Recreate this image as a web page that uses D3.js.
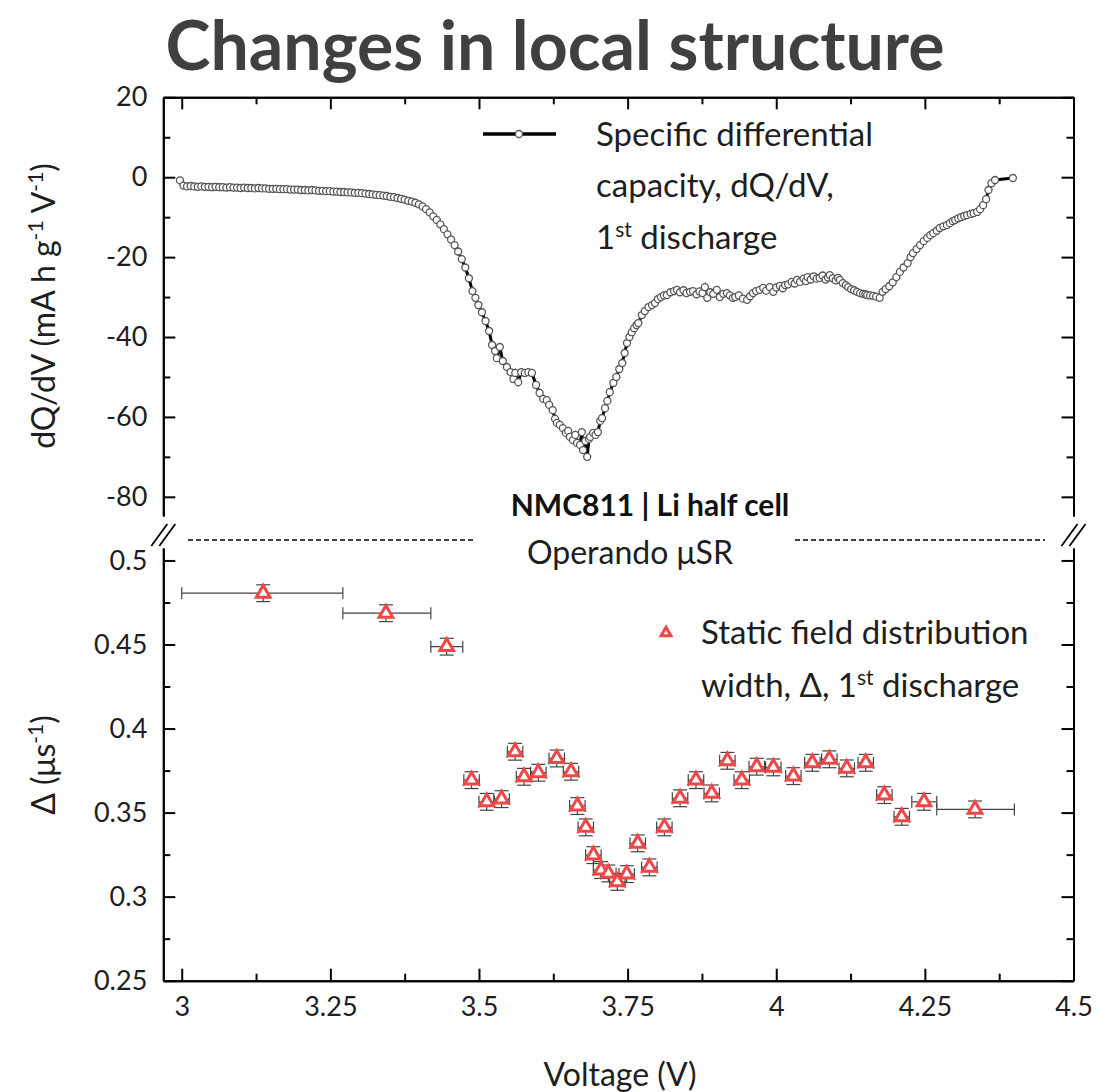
<!DOCTYPE html>
<html><head><meta charset="utf-8">
<script src="https://cdn.jsdelivr.net/npm/d3@7"></script>
<style>
body{margin:0;background:#fff;}
svg{display:block;font-family:Lato,"Open Sans",sans-serif;}
</style></head>
<body>
<svg id="c" width="1099" height="1092"></svg>
<script>
// ---------- data ----------
const voltage = [
2.997,3.003,3.009,3.015,3.021,3.027,3.033,3.039,3.045,3.051,
3.057,3.063,3.069,3.075,3.081,3.087,3.093,3.099,3.105,3.111,
3.117,3.123,3.129,3.135,3.141,3.147,3.153,3.159,3.165,3.171,
3.177,3.183,3.189,3.195,3.201,3.207,3.213,3.219,3.225,3.231,
3.237,3.243,3.249,3.255,3.261,3.267,3.273,3.279,3.285,3.291,
3.297,3.303,3.309,3.315,3.321,3.327,3.333,3.339,3.345,3.351,
3.357,3.363,3.369,3.375,3.381,3.387,3.393,3.399,3.405,3.411,
3.417,3.423,3.429,3.435,3.441,3.447,3.453,3.459,3.465,3.471,
3.477,3.483,3.489,3.494,3.499,3.505,3.511,3.517,3.522,3.527,
3.530,3.535,3.540,3.547,3.553,3.558,3.561,3.566,3.571,3.577,
3.583,3.589,3.596,3.602,3.608,3.614,3.618,3.624,3.628,3.631,
3.636,3.641,3.646,3.650,3.653,3.658,3.662,3.665,3.670,3.673,
3.675,3.679,3.682,3.685,3.687,3.692,3.696,3.700,3.704,3.707,
3.712,3.716,3.720,3.726,3.731,3.736,3.741,3.745,3.749,3.753,
3.757,3.761,3.765,3.768,3.774,3.779,3.785,3.791,3.796,3.801,
3.806,3.811,3.816,3.822,3.828,3.833,3.838,3.844,3.849,3.855,
3.860,3.866,3.871,3.876,3.880,3.884,3.889,3.894,3.900,3.905,
3.911,3.917,3.922,3.927,3.931,3.937,3.944,3.951,3.956,3.961,
3.966,3.972,3.978,3.983,3.989,3.995,4.000,4.006,4.011,4.015,
4.020,4.026,4.031,4.035,4.040,4.046,4.050,4.053,4.058,4.063,
4.068,4.073,4.078,4.083,4.087,4.090,4.095,4.100,4.104,4.107,
4.112,4.117,4.121,4.126,4.131,4.136,4.141,4.146,4.150,4.153,
4.158,4.163,4.168,4.174,4.179,4.184,4.190,4.196,4.202,4.208,
4.214,4.221,4.226,4.230,4.236,4.242,4.248,4.254,4.259,4.264,
4.270,4.275,4.281,4.287,4.292,4.297,4.301,4.306,4.311,4.316,
4.321,4.327,4.332,4.338,4.343,4.348,4.353,4.357,4.362,4.368,
4.398];
const dQdV = [
-0.8,-2.1,-2.3,-2.2,-2.3,-2.4,-2.3,-2.4,-2.4,-2.5,
-2.4,-2.5,-2.5,-2.6,-2.5,-2.6,-2.6,-2.7,-2.6,-2.7,
-2.7,-2.8,-2.7,-2.8,-2.8,-2.9,-2.9,-2.9,-3.0,-3.0,
-3.0,-3.1,-3.1,-3.1,-3.2,-3.2,-3.3,-3.2,-3.3,-3.4,
-3.4,-3.5,-3.5,-3.6,-3.6,-3.7,-3.7,-3.8,-3.8,-3.9,
-3.9,-4.0,-4.1,-4.2,-4.3,-4.4,-4.5,-4.6,-4.7,-4.9,
-5.0,-5.2,-5.4,-5.6,-5.9,-6.1,-6.4,-6.8,-7.3,-8.0,
-8.8,-9.8,-10.7,-11.8,-13.0,-14.3,-15.6,-17.0,-18.6,-20.5,
-22.6,-25.3,-28.5,-30.2,-32.0,-33.8,-36.0,-38.5,-42.0,-43.5,
-45.3,-42.5,-46.0,-47.5,-48.8,-50.5,-49.0,-51.3,-48.8,-49.0,
-48.8,-49.0,-52.0,-54.0,-55.5,-55.8,-57.0,-58.3,-60.5,-61.5,
-62.0,-62.8,-64.0,-63.5,-65.0,-65.8,-64.5,-66.5,-67.0,-63.8,
-68.3,-66.0,-70.0,-65.5,-65.0,-64.0,-64.5,-63.8,-61.0,-60.3,
-57.8,-56.0,-53.8,-51.5,-50.0,-48.0,-46.5,-44.0,-41.5,-40.0,
-38.8,-37.8,-37.0,-36.5,-34.5,-33.5,-32.5,-32.0,-31.5,-30.5,
-30.0,-29.6,-29.5,-28.8,-28.5,-28.2,-28.8,-28.3,-29.0,-28.7,
-28.5,-29.3,-28.6,-29.0,-27.5,-30.2,-28.8,-29.2,-28.2,-30.0,
-29.2,-29.0,-29.6,-30.2,-30.0,-29.6,-30.4,-30.7,-29.8,-29.0,
-28.5,-28.2,-27.7,-28.4,-27.5,-28.7,-27.6,-27.2,-27.8,-27.0,
-26.8,-26.2,-26.6,-25.7,-26.2,-25.4,-26.0,-25.0,-25.6,-24.8,
-25.4,-25.2,-24.6,-25.6,-25.1,-24.5,-25.3,-25.8,-25.2,-25.7,
-26.5,-27.0,-27.5,-28.0,-28.3,-28.7,-29.0,-29.2,-29.3,-29.5,
-29.6,-29.7,-29.9,-30.2,-28.7,-28.0,-27.3,-26.3,-25.0,-23.7,
-22.6,-21.5,-20.0,-19.0,-18.0,-17.0,-16.0,-15.2,-14.5,-14.0,
-13.4,-12.7,-12.3,-12.0,-11.5,-11.0,-10.7,-10.3,-10.0,-9.7,
-9.5,-9.2,-9.0,-8.7,-8.0,-7.0,-5.5,-3.2,-1.5,-0.7,
-0.2];

const muV = [3.137,3.3435,3.4457,3.4875,3.513,3.538,3.5607,3.5758,3.5998,3.6308,
3.6548,3.6655,3.6796,3.6924,3.7053,3.7176,3.7327,3.7485,3.767,3.7866,
3.8118,3.8382,3.865,3.8915,3.9178,3.942,3.9672,3.9951,4.0288,4.0607,
4.0893,4.1186,4.1505,4.1818,4.2111,4.2486,4.3344];
const delta = [0.4805,0.4686,0.4487,0.3693,0.3564,0.3580,0.3862,0.3713,0.3737,0.3822,
0.3743,0.3539,0.3412,0.3247,0.3158,0.3138,0.3088,0.3134,0.3317,0.3174,
0.3412,0.3585,0.3693,0.3614,0.3808,0.3693,0.3773,0.3769,0.3717,0.3796,
0.3817,0.3763,0.3796,0.3604,0.3475,0.3564,0.3519];
const vErrMinus = [0.137,0.0725,0.0267,0.013,0.013,0.013,0.013,0.013,0.013,0.013,
0.013,0.013,0.013,0.013,0.013,0.013,0.013,0.013,0.013,0.013,
0.013,0.013,0.013,0.013,0.013,0.013,0.013,0.013,0.013,0.013,
0.013,0.013,0.013,0.013,0.013,0.0206,0.0644];
const vErrPlus = [0.134,0.0755,0.027,0.013,0.013,0.013,0.013,0.013,0.013,0.013,
0.013,0.013,0.013,0.013,0.013,0.013,0.013,0.013,0.013,0.013,
0.013,0.013,0.013,0.013,0.013,0.013,0.013,0.013,0.013,0.013,
0.013,0.013,0.013,0.013,0.013,0.0214,0.0661];
const deltaErr = [0.005,0.005,0.005,0.005,0.005,0.005,0.005,0.005,0.005,0.005,
0.005,0.005,0.005,0.005,0.005,0.005,0.005,0.005,0.005,0.005,
0.005,0.005,0.005,0.005,0.005,0.005,0.005,0.005,0.005,0.005,
0.005,0.005,0.005,0.005,0.005,0.005,0.005];

const xMajor = [3,3.25,3.5,3.75,4,4.25,4.5];
const xMinor = [3.125,3.375,3.625,3.875,4.125,4.375];
const yTopMajor = [20,0,-20,-40,-60,-80];
const yTopMinor = [10,-10,-30,-50,-70];
const yBotMajor = [0.5,0.45,0.4,0.35,0.3,0.25];
const yBotMinor = [0.475,0.425,0.375,0.325,0.275];

// ---------- layout ----------
const svg = d3.select("#c");
const X0 = 163.3, X1 = 1073.5;
const x = d3.scaleLinear().domain([2.969, 4.5]).range([X0, X1]);
const yT = d3.scaleLinear().domain([-84.8, 20]).range([516, 97.3]);
const yB = d3.scaleLinear().domain([0.25, 0.5074]).range([980.7, 548]);
const FONT = 27;      // tick labels
const LFONT = 32;     // axis labels
const GFONT = 33;     // legends
const SUP = 21;
const red = "#ef4747";
const ink = "#1e1e1e";

function styleAxis(g){
  g.selectAll(".domain").attr("stroke","#000").attr("stroke-width",2);
  g.selectAll(".tick line").attr("stroke","#000").attr("stroke-width",2);
  g.selectAll(".tick text").attr("fill",ink).style("font-size",FONT+"px").style("font-family","Lato");
}
function addAxis(make, tx, ty, major, minor, labels){
  const fmt = labels ? (d=>String(d)) : (()=> "");
  const g = svg.append("g").attr("transform",`translate(${tx},${ty})`)
    .call(make().tickValues(major).tickSize(-12).tickSizeOuter(0).tickPadding(16).tickFormat(fmt));
  styleAxis(g);
  const gm = svg.append("g").attr("transform",`translate(${tx},${ty})`)
    .call(make().tickValues(minor).tickSize(-7).tickSizeOuter(0).tickFormat(()=> ""));
  styleAxis(gm);
  return g;
}
// top panel
addAxis(()=>d3.axisLeft(yT), X0, 0, yTopMajor, yTopMinor, true);
addAxis(()=>d3.axisRight(yT), X1, 0, yTopMajor, yTopMinor, false);
addAxis(()=>d3.axisTop(x), 0, yT(20), xMajor, xMinor, false);
// bottom panel
addAxis(()=>d3.axisLeft(yB), X0, 0, yBotMajor, yBotMinor, true);
addAxis(()=>d3.axisRight(yB), X1, 0, yBotMajor, yBotMinor, false);
addAxis(()=>d3.axisBottom(x), 0, yB(0.25), xMajor, xMinor, true);

// break marks
[X0, X1].forEach(cx=>{
  [-4, 4].forEach(o=>{
    svg.append("line").attr("x1",cx+o-8).attr("y1",546).attr("x2",cx+o+8).attr("y2",524)
      .attr("stroke","#000").attr("stroke-width",1.8);
  });
});
// dashed separators
[[188,475],[795,1045]].forEach(s=>{
  svg.append("line").attr("x1",s[0]).attr("x2",s[1]).attr("y1",540).attr("y2",540)
    .attr("stroke","#000").attr("stroke-width",1.5).attr("stroke-dasharray","5,3");
});

// ---------- top curve ----------
const pts = voltage.map((v,i)=>[v,dQdV[i]]);
svg.append("path").datum(pts)
  .attr("d", d3.line().x(d=>x(d[0])).y(d=>yT(d[1])))
  .attr("fill","none").attr("stroke","#000").attr("stroke-width",3);
svg.append("g").selectAll("circle").data(pts).join("circle")
  .attr("cx",d=>x(d[0])).attr("cy",d=>yT(d[1])).attr("r",3.5)
  .attr("fill","#fff").attr("stroke","#555").attr("stroke-width",1.3);

// ---------- bottom points ----------
const mu = muV.map((v,i)=>({v, d:delta[i], lo:v-vErrMinus[i], hi:v+vErrPlus[i], e:deltaErr[i]}));
const eb = svg.append("g").attr("stroke","#444").attr("stroke-width",1.2);
mu.forEach(p=>{
  eb.append("line").attr("x1",x(p.lo)).attr("x2",x(p.hi)).attr("y1",yB(p.d)).attr("y2",yB(p.d));
  eb.append("line").attr("x1",x(p.lo)).attr("x2",x(p.lo)).attr("y1",yB(p.d)-6).attr("y2",yB(p.d)+6);
  eb.append("line").attr("x1",x(p.hi)).attr("x2",x(p.hi)).attr("y1",yB(p.d)-6).attr("y2",yB(p.d)+6);
  eb.append("line").attr("x1",x(p.v)).attr("x2",x(p.v)).attr("y1",yB(p.d+p.e)).attr("y2",yB(p.d-p.e));
  eb.append("line").attr("x1",x(p.v)-7).attr("x2",x(p.v)+7).attr("y1",yB(p.d+p.e)).attr("y2",yB(p.d+p.e));
  eb.append("line").attr("x1",x(p.v)-7).attr("x2",x(p.v)+7).attr("y1",yB(p.d-p.e)).attr("y2",yB(p.d-p.e));
});
const tri = d3.symbol().type(d3.symbolTriangle).size(80);
svg.append("g").selectAll("path").data(mu).join("path")
  .attr("d",tri).attr("transform",d=>`translate(${x(d.v)},${yB(d.d)})`)
  .attr("fill","#fff").attr("stroke",red).attr("stroke-width",3);

// ---------- texts ----------
const title = svg.append("text").attr("x",555).attr("y",70).attr("text-anchor","middle")
  .attr("fill","#404040").style("font-weight","bold").style("font-size","60px").text("Changes in local structure");
const tw = title.node().getComputedTextLength();
title.style("font-size", Math.min(68, 60*790/tw)+"px");

function supText(g, parts){
  parts.forEach(p=>{
    const t = g.append("tspan").text(p[0]);
    if (p[1]) t.attr("baseline-shift","super").style("font-size",SUP+"px");
  });
}
// y labels
const yl1 = svg.append("text").attr("transform","translate(55,306) rotate(-90)")
  .attr("text-anchor","middle").style("font-size",LFONT+"px").attr("fill",ink);
supText(yl1, [["dQ/dV (mA h g"],["-1",1],[" V"],["-1",1],[")"]]);
const yl2 = svg.append("text").attr("transform","translate(55,765) rotate(-90)")
  .attr("text-anchor","middle").style("font-size",LFONT+"px").attr("fill",ink);
supText(yl2, [["Δ (μs"],["-1",1],[")"]]);
svg.append("text").attr("x",620).attr("y",1086).attr("text-anchor","middle")
  .style("font-size",LFONT+"px").attr("fill",ink).text("Voltage (V)");

svg.append("text").attr("x",650).attr("y",516).attr("text-anchor","middle")
  .style("font-size","30px").style("font-weight","bold").attr("fill","#111").text("NMC811 | Li half cell");
svg.append("text").attr("x",630).attr("y",564).attr("text-anchor","middle")
  .style("font-size",LFONT+"px").attr("fill",ink).text("Operando μSR");

// top legend
svg.append("line").attr("x1",483).attr("x2",556).attr("y1",134).attr("y2",134)
  .attr("stroke","#000").attr("stroke-width",3.5);
svg.append("circle").attr("cx",519).attr("cy",134).attr("r",3.5)
  .attr("fill","#fff").attr("stroke","#555").attr("stroke-width",1.3);
svg.append("text").attr("x",596).attr("y",146).style("font-size",GFONT+"px").attr("fill",ink).text("Specific differential");
svg.append("text").attr("x",596).attr("y",197).style("font-size",GFONT+"px").attr("fill",ink).text("capacity, dQ/dV,");
const l3 = svg.append("text").attr("x",596).attr("y",249).style("font-size",GFONT+"px").attr("fill",ink);
supText(l3, [["1"],["st",1],[" discharge"]]);

// bottom legend
svg.append("path").attr("d",d3.symbol().type(d3.symbolTriangle).size(42))
  .attr("transform","translate(666,633)").attr("fill","#fff").attr("stroke",red).attr("stroke-width",3);
svg.append("text").attr("x",701).attr("y",644).style("font-size",GFONT+"px").attr("fill",ink).text("Static field distribution");
const l4 = svg.append("text").attr("x",701).attr("y",697).style("font-size",GFONT+"px").attr("fill",ink);
supText(l4, [["width, Δ, 1"],["st",1],[" discharge"]]);
</script>
</body></html>
